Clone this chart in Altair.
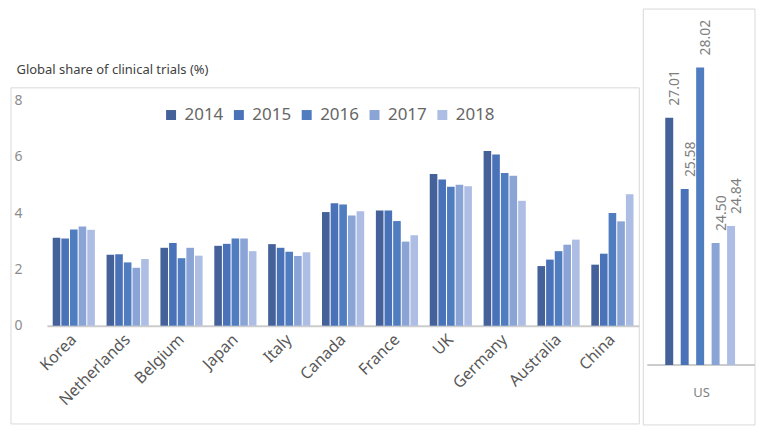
import altair as alt
import pandas as pd

countries = ["Korea", "Netherlands", "Belgium", "Japan", "Italy", "Canada",
             "France", "UK", "Germany", "Australia", "China"]
years = ["2014", "2015", "2016", "2017", "2018"]
v2014 = [3.13, 2.52, 2.77, 2.84, 2.90, 4.04, 4.10, 5.39, 6.21, 2.12, 2.17]
v2015 = [3.10, 2.54, 2.94, 2.91, 2.77, 4.35, 4.10, 5.20, 6.09, 2.35, 2.56]
v2016 = [3.42, 2.25, 2.40, 3.10, 2.63, 4.31, 3.72, 4.94, 5.43, 2.65, 4.01]
v2017 = [3.53, 2.06, 2.77, 3.10, 2.48, 3.92, 2.99, 5.01, 5.33, 2.88, 3.71]
v2018 = [3.41, 2.37, 2.49, 2.65, 2.61, 4.07, 3.22, 4.96, 4.44, 3.06, 4.67]
us_values = [27.01, 25.58, 28.02, 24.50, 24.84]
y_ticks = [0, 2, 4, 6, 8]
colors = ["#44619a", "#4a72b8", "#4f7dc0", "#8aa4d6", "#adbde3"]

series = [v2014, v2015, v2016, v2017, v2018]
rows = []
for yr, vals in zip(years, series):
    for c, v in zip(countries, vals):
        rows.append({"country": c, "year": yr, "value": v})
df = pd.DataFrame(rows)
us_df = pd.DataFrame({"year": years, "value": us_values,
                      "label": [f"{v:.2f}" for v in us_values]})
one = pd.DataFrame({"a": [0]})

FONT = "Noto Sans"
FRAME = "#d9d9d9"
color_scale = alt.Scale(domain=years, range=colors)


def frame(x0, x1, y0, y1):
    """Four thin rules forming a decorative border (pixel coords of the panel)."""
    base = alt.Chart(one).mark_rule(color=FRAME, strokeWidth=1)
    return [
        base.encode(x=alt.value(x0), x2=alt.value(x1), y=alt.value(y0)),
        base.encode(x=alt.value(x0), x2=alt.value(x1), y=alt.value(y1)),
        base.encode(x=alt.value(x0), y=alt.value(y0), y2=alt.value(y1)),
        base.encode(x=alt.value(x1), y=alt.value(y0), y2=alt.value(y1)),
    ]


W, H = 594, 308
main_bars = alt.Chart(df).mark_bar().encode(
    x=alt.X("country:N", sort=countries,
            scale=alt.Scale(paddingInner=0.217, paddingOuter=0.108),
            axis=alt.Axis(title=None, labelAngle=-45, labelAlign="right",
                          labelBaseline="middle", labelFontSize=16,
                          labelColor="#595959", domainColor="#cccccc",
                          domainWidth=2, ticks=False, labelPadding=11)),
    xOffset=alt.XOffset("year:N", sort=years, scale=alt.Scale(paddingInner=0.12)),
    y=alt.Y("value:Q", scale=alt.Scale(domain=[0, 10.92], nice=False),
            axis=alt.Axis(values=y_ticks, title="Global share of clinical trials (%)",
                          titleAngle=0, titleAlign="left", titleBaseline="middle",
                          titleX=-31, titleY=51.5, titleFontSize=13,
                          titleFontWeight="normal", titleColor="#404040",
                          domain=False, ticks=False, grid=False, labelPadding=25,
                          labelFontSize=14, labelColor="#8c8c8c")),
    color=alt.Color("year:N", scale=color_scale,
                    legend=alt.Legend(orient="none", legendX=116, legendY=88,
                                      direction="horizontal", title=None,
                                      symbolType="square", symbolSize=100,
                                      symbolStrokeWidth=0,
                                      labelFontSize=17, labelColor="#666666",
                                      columnPadding=7, labelOffset=5, padding=0)),
)
main = alt.layer(*frame(-36, W, 69.5, 406.5), main_bars).properties(width=W, height=H)

UW, UH = 108, 347.5
us_x = alt.X("year:N", sort=years,
             scale=alt.Scale(range=[18, 88], paddingInner=0.484, paddingOuter=0),
             axis=alt.Axis(title="US", labels=False, ticks=False, domain=False,
                           titleFontSize=13, titleFontWeight="normal",
                           titleColor="#7f7f7f", titlePadding=21, titleX=54))
us_y = alt.Y("value:Q", scale=alt.Scale(domain=[22.05, 29], nice=False, zero=False),
             axis=None)
us_bars = alt.Chart(us_df).mark_bar().encode(
    x=us_x, y=us_y, y2=alt.datum(22.05),
    color=alt.Color("year:N", scale=color_scale, legend=None))
us_text = alt.Chart(us_df).mark_text(angle=270, align="left", baseline="middle",
                                     dx=12, dy=6, fontSize=14, color="#7f7f7f").encode(
    x=us_x, y=us_y, text="label:N")
us_base = alt.Chart(one).mark_rule(color="#cccccc", strokeWidth=2).encode(
    x=alt.value(0), x2=alt.value(UW), y=alt.value(UH))
us = alt.layer(*frame(-4, UW, -9.5, 407.5), us_base, us_bars, us_text).properties(
    width=UW, height=UH)

chart = alt.hconcat(main, us, spacing=8, bounds="flush").properties(
    padding={"left": 2, "top": 0, "right": 0, "bottom": 0}
).configure(font=FONT).configure_view(stroke="transparent", strokeWidth=0)

chart.save("out.html", embed_options={"renderer": "svg", "actions": False})
